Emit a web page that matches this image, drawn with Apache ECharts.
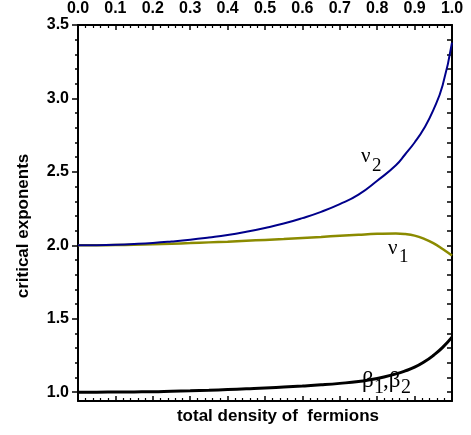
<!DOCTYPE html>
<html><head><meta charset="utf-8">
<script src="https://cdn.jsdelivr.net/npm/echarts@6/dist/echarts.min.js"></script>
<style>html,body{margin:0;padding:0;background:#fff}#c{width:471px;height:435px}</style>
</head><body><div id="c"></div>
<script>
const density = [0, 0.05, 0.1, 0.15, 0.2, 0.25, 0.3, 0.35, 0.4, 0.45, 0.5, 0.55, 0.6, 0.65, 0.7, 0.75, 0.8, 0.85, 0.875, 0.9, 0.925, 0.95, 0.975, 1.0];
const nu2 = [2.0, 2.001, 2.004, 2.009, 2.016, 2.026, 2.038, 2.053, 2.07, 2.092, 2.118, 2.148, 2.185, 2.228, 2.28, 2.345, 2.44, 2.545, 2.62, 2.70, 2.795, 2.92, 3.09, 3.38];
const nu1 = [2.0, 2.0005, 2.002, 2.004, 2.007, 2.011, 2.015, 2.02, 2.025, 2.031, 2.037, 2.043, 2.05, 2.057, 2.065, 2.072, 2.078, 2.081, 2.077, 2.066, 2.045, 2.015, 1.975, 1.93];
const beta = [1.0, 1.0, 1.001, 1.002, 1.003, 1.006, 1.009, 1.013, 1.018, 1.023, 1.028, 1.035, 1.042, 1.05, 1.06, 1.073, 1.093, 1.125, 1.145, 1.17, 1.205, 1.25, 1.305, 1.375];
const yMajorTicks = [1.0, 1.5, 2.0, 2.5, 3.0, 3.5];
const yMinorTicks = [1.0, 1.1, 1.2, 1.3, 1.4, 1.5, 1.6, 1.7, 1.8, 1.9, 2.0, 2.1, 2.2, 2.3, 2.4, 2.5, 2.6, 2.7, 2.8, 2.9, 3.0, 3.1, 3.2, 3.3, 3.4, 3.5];
const xTitle = 'total density of  fermions';
const yTitle = 'critical exponents';

const pairs = arr => density.map((x, i) => [x, arr[i]]);
const chart = echarts.init(document.getElementById('c'), null, {renderer: 'canvas'});
const axisFont = {fontFamily: 'Liberation Sans', fontWeight: 'bold', fontSize: 16, color: '#000'};
const titleFont = {fontFamily: 'Liberation Sans', fontWeight: 'bold', fontSize: 17, color: '#000'};
const blackLine = {color: '#000', width: 2};
const xBase = {
  type: 'value', min: 0, max: 1, interval: 0.1,
  axisLine: {show: true, onZero: false, lineStyle: blackLine},
  axisTick: {show: true, inside: true, length: 5, lineStyle: {color: '#000', width: 1.5}},
  minorTick: {show: true, splitNumber: 5, length: 3, lineStyle: {color: '#000', width: 1.2}},
  splitLine: {show: false}, minorSplitLine: {show: false}
};
const yRange = {type: 'value', min: 0.94, max: 3.5, splitLine: {show: false}};
chart.setOption({
  animation: false,
  backgroundColor: '#fff',
  grid: {left: 78, right: 19, top: 25, bottom: 34, containLabel: false},
  xAxis: [
    Object.assign({}, xBase, {position: 'top',
      axisLabel: Object.assign({show: true, margin: 8, formatter: v => v.toFixed(1)}, axisFont)}),
    Object.assign({}, xBase, {position: 'bottom', axisLabel: {show: false},
      name: xTitle, nameLocation: 'middle', nameGap: 7,
      nameTextStyle: Object.assign({padding: [0, 0, 0, 26]}, titleFont)})
  ],
  yAxis: [
    Object.assign({}, yRange, {position: 'left',
      axisLine: {show: true, onZero: false, lineStyle: blackLine},
      axisLabel: Object.assign({show: true, margin: 9, customValues: yMajorTicks, formatter: v => v.toFixed(1)}, axisFont),
      axisTick: {show: true, inside: false, length: 6, customValues: yMajorTicks, lineStyle: {color: '#000', width: 1.5}},
      name: yTitle, nameLocation: 'middle', nameGap: 46, nameRotate: 90,
      nameTextStyle: Object.assign({padding: [0, 26, 0, 0]}, titleFont)}),
    Object.assign({}, yRange, {position: 'left',
      axisLine: {show: false}, axisLabel: {show: false},
      axisTick: {show: true, inside: false, length: 3, customValues: yMinorTicks, lineStyle: {color: '#000', width: 1.5}}}),
    Object.assign({}, yRange, {position: 'right',
      axisLine: {show: true, onZero: false, lineStyle: blackLine}, axisLabel: {show: false},
      axisTick: {show: true, inside: true, length: 5, customValues: yMinorTicks, lineStyle: {color: '#000', width: 1.5}}})
  ],
  series: [
    {type: 'line', name: 'nu2', data: pairs(nu2), xAxisIndex: 0, yAxisIndex: 0, showSymbol: false, smooth: true,
      lineStyle: {color: '#00008b', width: 2}, z: 3},
    {type: 'line', name: 'nu1', data: pairs(nu1), xAxisIndex: 0, yAxisIndex: 0, showSymbol: false, smooth: true,
      lineStyle: {color: '#8b8b00', width: 2.5}, z: 2},
    {type: 'line', name: 'beta', data: pairs(beta), xAxisIndex: 0, yAxisIndex: 0, showSymbol: false, smooth: true,
      lineStyle: {color: '#000', width: 3}, z: 4}
  ],
  graphic: [
    {type: 'text', x: 361, y: 146, style: {text: 'ν', font: '21px "Liberation Serif"', fill: '#000'}},
    {type: 'text', x: 372, y: 157, style: {text: '2', font: '19px "Liberation Serif"', fill: '#000'}},
    {type: 'text', x: 388, y: 238, style: {text: 'ν', font: '21px "Liberation Serif"', fill: '#000'}},
    {type: 'text', x: 399, y: 248, style: {text: '1', font: '19px "Liberation Serif"', fill: '#000'}},
    {type: 'text', x: 362, y: 369, style: {text: 'β', font: '23px "Liberation Serif"', fill: '#000'}},
    {type: 'text', x: 374, y: 378, style: {text: '1', font: '20px "Liberation Serif"', fill: '#000'}},
    {type: 'text', x: 383, y: 369, style: {text: ',β', font: '23px "Liberation Serif"', fill: '#000'}},
    {type: 'text', x: 401, y: 378, style: {text: '2', font: '20px "Liberation Serif"', fill: '#000'}}
  ]
});
</script>
</body></html>
